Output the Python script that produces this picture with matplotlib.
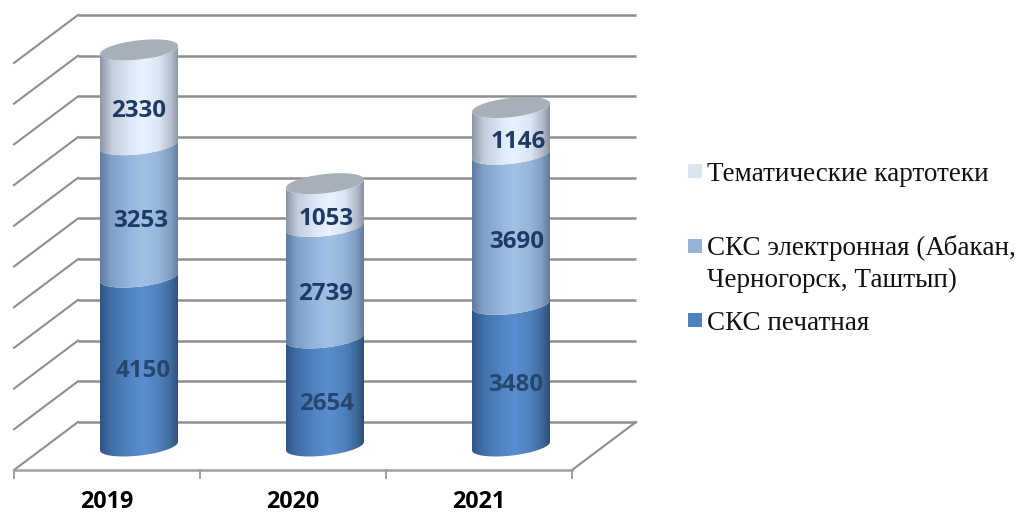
#!/usr/bin/env python3
"""Stacked 3D-look cylinders for the card catalogue counts, 2019-2021."""
import numpy as np
import matplotlib
matplotlib.use("Agg")
import matplotlib.pyplot as plt
from matplotlib.colors import LinearSegmentedColormap
from matplotlib.patches import Polygon, Rectangle

YEARS = ["2019", "2020", "2021"]
PRINTED = [4150, 2654, 3480]
ELECTRONIC = [3253, 2739, 3690]
THEMATIC = [2330, 1053, 1146]
SERIES = [PRINTED, ELECTRONIC, THEMATIC]
GRID_VALUES = list(range(0, 11000, 1000))

W, H = 1018, 513
PX_X = 186.0     # pixels per category slot
PX_Y = 0.0407    # pixels per value unit
X0, Y0 = 14, 470  # pixel of front-left floor corner

DEPTH_X = 64 / PX_X
DEPTH_Y = 48 / PX_Y
HALF_W = 39 / PX_X
TILT = 4.2 / PX_Y
ELL_B = 9.6 / PX_Y

GRADS = [
    LinearSegmentedColormap.from_list("c0", [(0, "#2f5585"), (0.14, "#426fa8"), (0.4, "#5285c5"),
                                             (0.55, "#5b8ed0"), (0.75, "#5080bc"), (0.9, "#3f6a9b"),
                                             (1, "#2e4f78")]),
    LinearSegmentedColormap.from_list("c1", [(0, "#5e7ba0"), (0.14, "#80a0c9"), (0.4, "#98b8df"),
                                             (0.55, "#a0c0e6"), (0.75, "#96b5da"), (0.9, "#7f9dc0"),
                                             (1, "#5f7c9e")]),
    LinearSegmentedColormap.from_list("c2", [(0, "#8d96a3"), (0.15, "#c3cddb"), (0.4, "#dfeafa"),
                                             (0.55, "#e8f3ff"), (0.75, "#dbe6f4"), (0.9, "#b4bdcc"),
                                             (1, "#8b929e")]),
]
LEGEND_COLORS = ["#4f81bd", "#95b3d7", "#dce6f2"]
LABEL_COLORS = ["#24466f", "#1f3a63", "#1f3a63"]
# hand placed data labels in the original: (dx, dy) in pixels from segment centre
NUDGE = [[(4, 9), (2, 10), (0, 14)],
         [(2, 12), (1, 12), (1, 14)],
         [(5, 10), (6, 13), (7, 11)]]


def front_arc(cx, v):
    t = np.linspace(np.pi, 2 * np.pi, 60)
    return cx + HALF_W * np.cos(t), v + TILT * np.cos(t) + ELL_B * np.sin(t)


def draw_segment(ax, cx, v0, v1, cmap):
    x0, y0 = front_arc(cx, v0)
    x1, y1 = front_arc(cx, v1)
    poly = Polygon(np.c_[np.r_[x0, x1[::-1]], np.r_[y0, y1[::-1]]], closed=True,
                   transform=ax.transData, fc="none", ec="none")
    ax.add_patch(poly)
    im = ax.imshow(np.linspace(0, 1, 256)[None, :], cmap=cmap, aspect="auto", vmin=0, vmax=1,
                   extent=(cx - HALF_W, cx + HALF_W, v0 - 2 * ELL_B, v1 + 2 * ELL_B), zorder=3)
    im.set_clip_path(poly)


def main():
    plt.rcParams["font.family"] = ["Liberation Serif", "DejaVu Serif"]
    fig = plt.figure(figsize=(W / 100, H / 100), dpi=100)
    ax = fig.add_axes([0, 0, 1, 1])

    # back wall and left wall
    for v in GRID_VALUES:
        ax.plot([DEPTH_X, 3 + DEPTH_X], [v + DEPTH_Y, v + DEPTH_Y], color="#8f8f8f", lw=1.8,
                solid_capstyle="butt", zorder=1)
        ax.plot([0, DEPTH_X], [v, v + DEPTH_Y], color="#8f8f8f", lw=1.5, zorder=1)
    ax.plot([3, 3 + DEPTH_X], [0, DEPTH_Y], color="#8f8f8f", lw=1.5, zorder=1)
    ax.plot([0, 3], [0, 0], color="#a0a0a0", lw=1.8, zorder=1)
    for i in range(4):
        ax.plot([i, i], [0, -196], color="#a0a0a0", lw=1.4, zorder=1)

    for i, year in enumerate(YEARS):
        cx = i + 0.5 + DEPTH_X / 2
        base = DEPTH_Y / 2
        bottom = 0
        for s, vals in enumerate(SERIES):
            val = vals[i]
            draw_segment(ax, cx, base + bottom, base + bottom + val, GRADS[s])
            dx, dy = NUDGE[i][s]
            ax.text(cx + dx / PX_X, base + bottom + val / 2 - dy / PX_Y, str(val),
                    ha="center", va="center", family="Open Sans", weight="bold", fontsize=17.4,
                    color=LABEL_COLORS[s], zorder=5)
            bottom += val
        # top cap
        t = np.linspace(0, 2 * np.pi, 120)
        ax.fill(cx + HALF_W * np.cos(t), base + bottom + TILT * np.cos(t) + ELL_B * np.sin(t),
                color="#a7b0b8", lw=0, zorder=4)
        ax.text(i + 0.5, -795, year, ha="center", va="center", family="Open Sans", weight="bold",
                fontsize=16.8, color="black")

    ax.set_xlim(-X0 / PX_X, (W - X0) / PX_X)
    ax.set_ylim(-(H - Y0) / PX_Y, Y0 / PX_Y)
    ax.axis("off")

    # legend, placed by hand since the line gaps are uneven in the original
    def fx(px):
        return px / W

    def fy(py):
        return 1 - py / H

    for py, col in [(164, LEGEND_COLORS[2]), (239, LEGEND_COLORS[1]), (313, LEGEND_COLORS[0])]:
        fig.add_artist(Rectangle((fx(688), fy(py + 14)), 14 / W, 14 / H, transform=fig.transFigure,
                                 fc=col, ec="none"))
    for py, txt in [(181, "Тематические картотеки"), (255, "СКС электронная (Абакан,"),
                    (287, "Черногорск, Таштып)"), (330, "СКС печатная")]:
        fig.text(fx(707), fy(py), txt, ha="left", va="baseline", fontsize=19.5, color="#111111")

    fig.savefig("out.png", dpi=100)
    plt.close(fig)


if __name__ == "__main__":
    main()
